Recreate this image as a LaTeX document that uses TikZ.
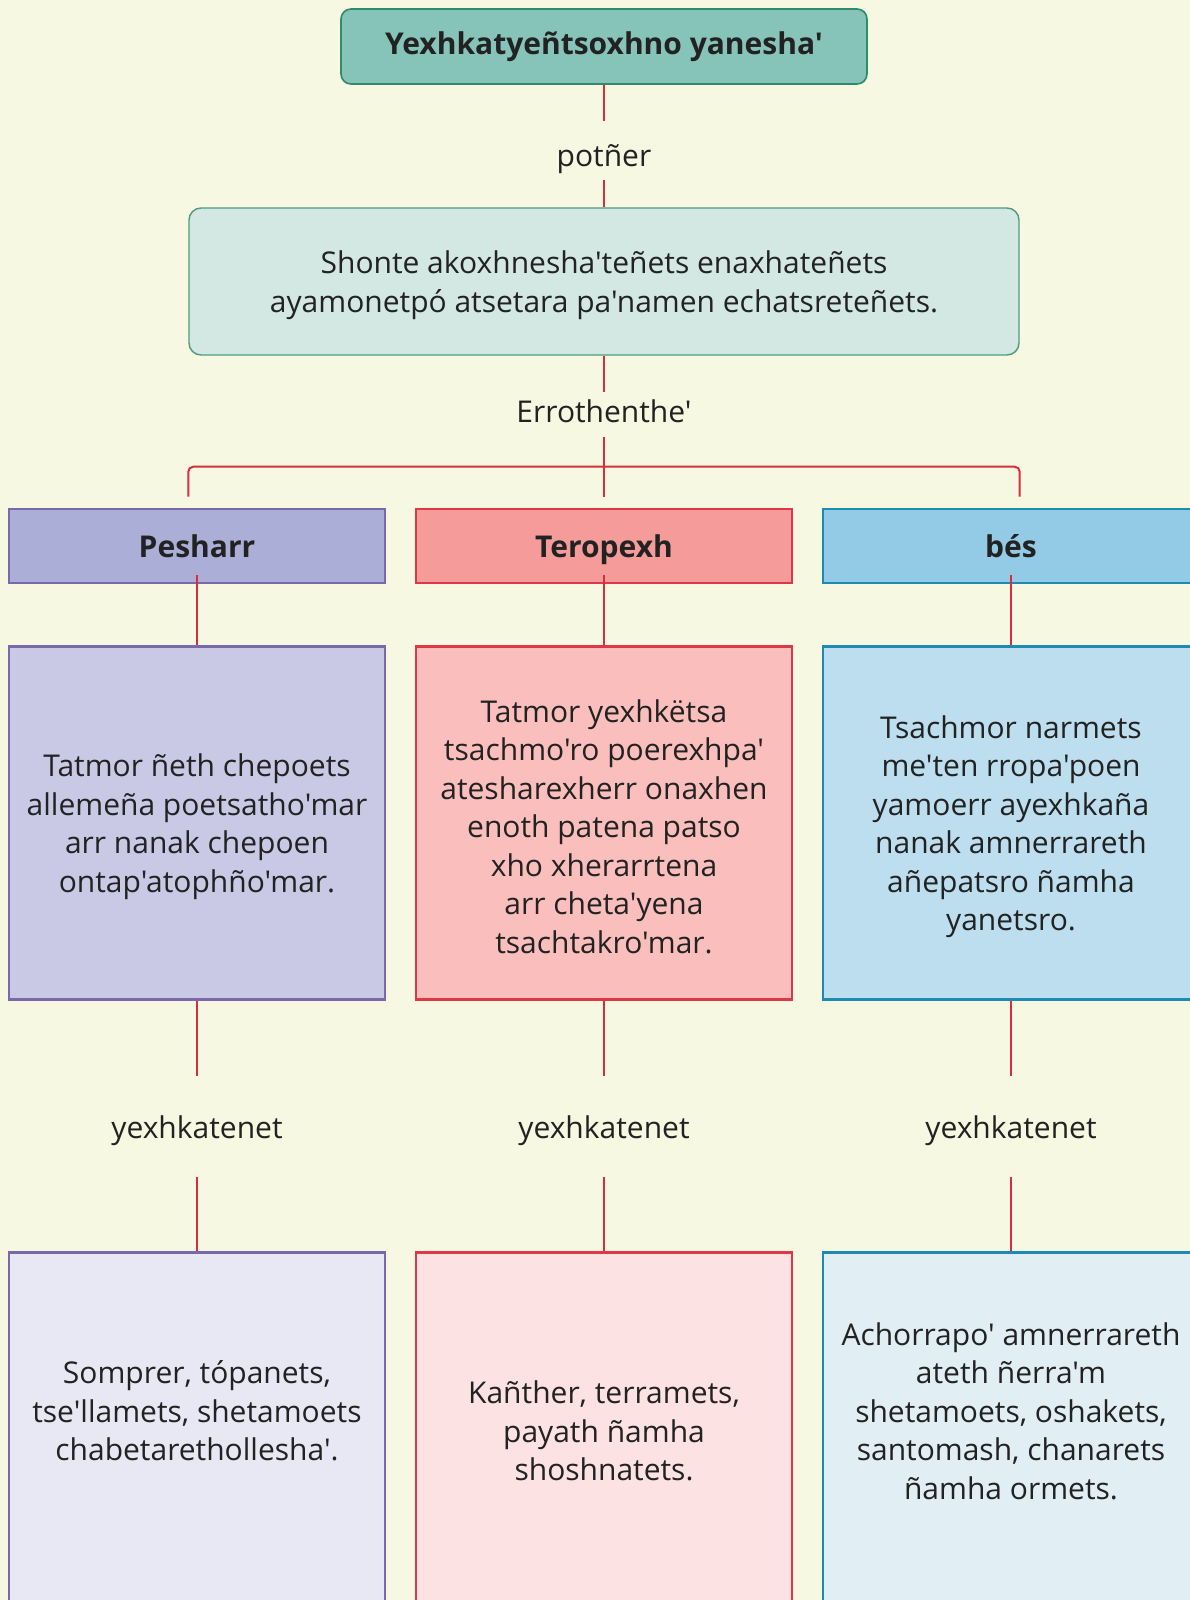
\documentclass[tikz,border=0pt]{standalone}
\usepackage{fontspec}
\setmainfont{Open Sans}[Ligatures=TeXOff]
\usetikzlibrary{positioning}

\definecolor{bgcream}{RGB}{246,248,225}
\definecolor{inkgray}{RGB}{34,34,34}
\definecolor{linkred}{RGB}{217,45,60}
\definecolor{tealline}{RGB}{46,139,108}
\definecolor{tealfill}{RGB}{134,195,185}
\definecolor{tealpale}{RGB}{211,231,227}
\definecolor{purpline}{RGB}{122,104,170}
\definecolor{purphdr}{RGB}{171,174,214}
\definecolor{purpdesc}{RGB}{201,201,230}
\definecolor{purpbot}{RGB}{232,232,244}
\definecolor{roseline}{RGB}{222,56,72}
\definecolor{rosehdr}{RGB}{245,155,154}
\definecolor{rosedesc}{RGB}{250,191,188}
\definecolor{rosebot}{RGB}{253,226,227}
\definecolor{skyline}{RGB}{27,139,180}
\definecolor{skyhdr}{RGB}{147,202,229}
\definecolor{skydesc}{RGB}{188,222,238}
\definecolor{skybot}{RGB}{225,239,245}

\tikzset{
  basefont/.style={font=\fontsize{30}{38.5}\selectfont},
  rootbox/.style={draw=tealline, fill=tealfill, line width=1.6pt, rounded corners=10pt,
    minimum width=526pt, minimum height=75pt, font=\fontsize{30}{38.5}\selectfont\bfseries},
  defbox/.style={draw=tealline!85, fill=tealpale, line width=1.4pt, rounded corners=12pt,
    minimum width=830pt, minimum height=147pt, align=center},
  edgelabel/.style={inner sep=0pt},
  hdrbox/.style={draw=#1line, fill=#1hdr, line width=2.6pt, minimum width=376pt,
    minimum height=74pt, text height=30pt, text depth=7pt,
    font=\fontsize{30}{38.5}\selectfont\bfseries},
  descbox/.style={draw=#1line, fill=#1desc, line width=2.6pt, minimum width=376pt,
    minimum height=353pt, align=center},
  botbox/.style={draw=#1line, fill=#1bot, line width=2.6pt, minimum width=376pt,
    minimum height=387pt},
  bodytext/.style={align=center, inner sep=0pt},
  link/.style={draw=linkred, line width=2pt}
}

\begin{document}
\begin{tikzpicture}[x=1pt, y=1pt, every node/.style={basefont, text=inkgray}]
\path[use as bounding box, fill=bgcream] (0,0) rectangle (1190,-1600);
\clip (0,0) rectangle (1190,-1600);

% top of the tree
\node[rootbox] (root) at (604,-46.5) {Yexhkatyeñtsoxhno yanesha'};
\node[edgelabel, text height=45pt, text depth=14pt, anchor=base] (lblA) at (604,-166) {potñer};
\node[defbox] (defn) at (604,-281.5) {\rule{0pt}{30pt}Shonte akoxhnesha'teñets enaxhateñets\\
  ayamonetpó atsetara pa'namen echatsreteñets.};
\node[edgelabel, text height=30pt, text depth=15pt, anchor=base] (lblB) at (604,-422) {Errothenthe'};

% headers
\node[hdrbox=purp] (hdrP) at (197,-546) {Pesharr};
\node[hdrbox=rose] (hdrT) at (604,-546) {Teropexh};
\node[hdrbox=sky]  (hdrB) at (1011,-546) {bés};

% descriptions
\node[descbox=purp, below=61pt of hdrP] (descP) {\rule{0pt}{30pt}Tatmor ñeth chepoets\\
  allemeña poetsatho'mar\\arr nanak chepoen\\ontap'atophño'mar.};
\node[descbox=rose, below=61pt of hdrT] (descT) {\rule{0pt}{30pt}Tatmor yexhkëtsa\\
  tsachmo'ro poerexhpa'\\atesharexherr onaxhen\\enoth patena patso\\
  xho xherarrtena\\arr cheta'yena\\tsachtakro'mar.};
\node[descbox=sky, below=61pt of hdrB] (descB) {\rule{0pt}{30pt}Tsachmor narmets\\
  me'ten rropa'poen\\yamoerr ayexhkaña\\nanak amnerrareth\\
  añepatsro ñamha\\yanetsro.};

% link labels
\node[edgelabel, text height=62pt, text depth=39pt, anchor=base] (lblP) at (197,-1138) {yexhkatenet};
\node[edgelabel, text height=62pt, text depth=39pt, anchor=base] (lblT) at (604,-1138) {yexhkatenet};
\node[edgelabel, text height=62pt, text depth=39pt, anchor=base] (lblB2) at (1011,-1138) {yexhkatenet};

% examples
\node[botbox=purp, below=250pt of descP] (botP) {};
\node[botbox=rose, below=250pt of descT] (botT) {};
\node[botbox=sky,  below=250pt of descB] (botB) {};
\node[bodytext] (botPtext) at ([yshift=-160pt]botP.north) {Somprer, tópanets,\\
  tse'llamets, shetamoets\\chabetarethollesha'.};
\node[bodytext] (botTtext) at ([yshift=-180pt]botT.north) {Kañther, terramets,\\
  payath ñamha\\shoshnatets.};
\node[bodytext] (botBtext) at ([yshift=-160pt]botB.north) {Achorrapo' amnerrareth\\
  ateth ñerra'm\\shetamoets, oshakets,\\santomash, chanarets\\ñamha ormets.};

% connectors
\coordinate (tipM) at ([yshift=11pt]hdrT.north);
\coordinate (tipL) at (tipM -| defn.west);
\coordinate (tipR) at (tipM -| defn.east);
\coordinate (bus) at ([yshift=30pt]tipM);
\draw[link] (root) -- (lblA);
\draw[link] (lblA) -- (defn);
\draw[link] (defn) -- (lblB);
\draw[link] (lblB) -- (tipM);
\draw[link, rounded corners=5pt] (tipL) |- (bus) -| (tipR);
\foreach \c/\l in {P/lblP, T/lblT, B/lblB2} {
  \draw[link] ([yshift=9pt]hdr\c.south) -- (desc\c.north);
  \draw[link] (desc\c) -- (\l);
  \draw[link] (\l) -- (bot\c);
}
\end{tikzpicture}
\end{document}
